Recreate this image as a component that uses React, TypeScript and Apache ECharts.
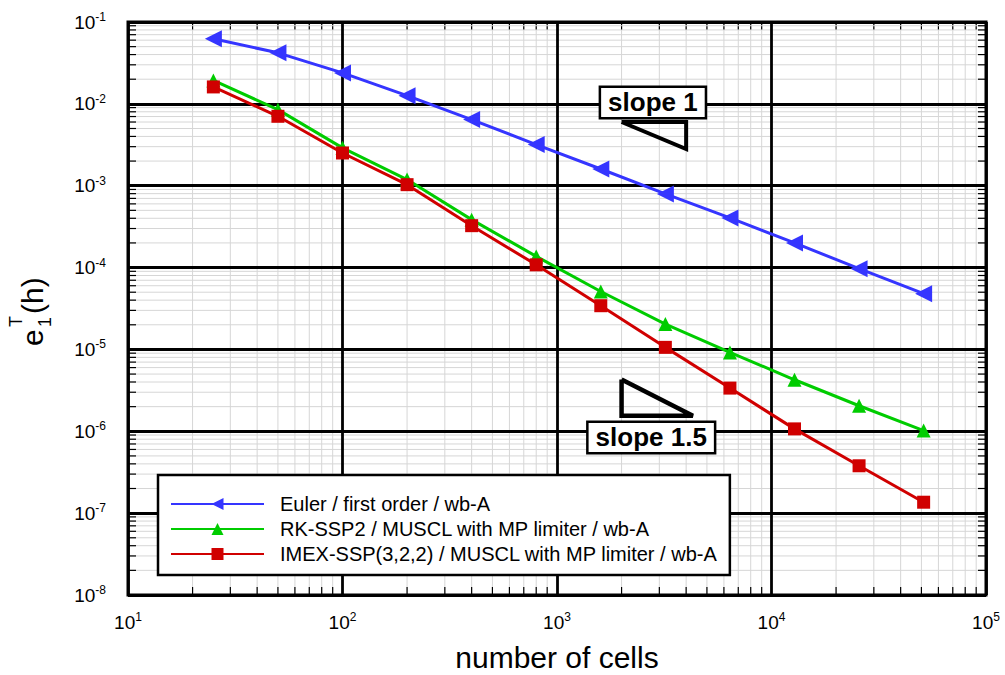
import { useEffect, useRef } from "react";
import * as echarts from "echarts";

// Mesh sizes (number of cells) and the measured error e_1^T(h) for each scheme
const cells = [25, 50, 100, 200, 400, 800, 1600, 3200, 6400, 12800, 25600, 51200];
const eulerErr = [0.0624, 0.042, 0.0239, 0.0126, 0.00643, 0.00318, 0.0016, 0.000794, 0.000404, 0.0002, 9.7e-5, 4.8e-5];
const rkErr = [0.0193, 0.0085, 0.0029, 0.00119, 0.000385, 0.000137, 5.1e-5, 2.04e-5, 9.2e-6, 4.26e-6, 2.05e-6, 1.02e-6];
const imexErr = [0.0161, 0.00705, 0.00251, 0.00103, 0.000325, 0.000108, 3.42e-5, 1.06e-5, 3.37e-6, 1.07e-6, 3.79e-7, 1.36e-7];

const seriesNames = [
  "Euler / first order / wb-A",
  "RK-SSP2 / MUSCL with MP limiter / wb-A",
  "IMEX-SSP(3,2,2) / MUSCL with MP limiter / wb-A",
];

// Reference slope triangles (closed polylines) and their labels
const slope1X = [2000, 4000, 4000, 2000];
const slope1Y = [0.006, 0.006, 0.0028, 0.006];
const slope15X = [2000, 2000, 4300, 2000];
const slope15Y = [4.3e-6, 1.55e-6, 1.55e-6, 4.3e-6];
const slopeLabels = [
  { text: "slope 1", x: 2800, y: 0.0104 },
  { text: "slope 1.5", x: 2750, y: 8.4e-7 },
];

const X_MIN = 10;
const X_MAX = 1e5;
const Y_MIN = 1e-8;
const Y_MAX = 1e-1;

const FONT = '"Liberation Sans", Arial, Helvetica, sans-serif';

function minorValues(lo: number, hi: number): number[] {
  const out: number[] = [];
  for (let e = Math.round(Math.log10(lo)); e < Math.round(Math.log10(hi)); e++) {
    for (let k = 2; k <= 9; k++) out.push(k * Math.pow(10, e));
  }
  return out;
}

const xMinor = minorValues(X_MIN, X_MAX);
const yMinor = minorValues(Y_MIN, Y_MAX);

const pair = (xs: number[], ys: number[]) => xs.map((x, i) => [x, ys[i]]);

const powLabel = (v: number) => {
  const e = Math.round(Math.log10(v));
  return `{b|10}{s|${e}}`;
};

const labelRich = {
  b: { fontSize: 19, fontFamily: FONT, color: "#000", lineHeight: 22 },
  s: { fontSize: 12, fontFamily: FONT, color: "#000", verticalAlign: "top" as const, lineHeight: 12 },
};

const GRID_GRAY = "#d6d6d6";
const TICK = 8;

// y-axis title e_1^T(h), drawn rotated with stacked sub/superscript
const yTitle = {
  type: "group",
  x: 43,
  y: 346,
  rotation: Math.PI / 2,
  silent: true,
  children: [
    { type: "text", x: 0, y: -10.4, style: { text: "e", fontSize: 30, fontFamily: FONT, fill: "#000", align: "left", verticalAlign: "middle" } },
    { type: "text", x: 19, y: -27.2, style: { text: "T", fontSize: 18, fontFamily: FONT, fill: "#000", align: "left", verticalAlign: "middle" } },
    { type: "text", x: 19, y: 1.8, style: { text: "1", fontSize: 18, fontFamily: FONT, fill: "#000", align: "left", verticalAlign: "middle" } },
    { type: "text", x: 32, y: -10.4, style: { text: "(h)", fontSize: 30, fontFamily: FONT, fill: "#000", align: "left", verticalAlign: "middle" } },
  ],
};

export default function App() {
  const ref = useRef<HTMLDivElement>(null);

  useEffect(() => {
    if (!ref.current) return;
    const chart = echarts.init(ref.current, undefined, { renderer: "svg" });

    const option: any = {
      animation: false,
      backgroundColor: "#fff",
      grid: {
        left: 128,
        right: 19,
        top: 22,
        bottom: 80,
        show: true,
        borderColor: "#000",
        borderWidth: 3,
        backgroundColor: "transparent",
        z: 1,
        containLabel: false,
        outerBoundsMode: "none",
      },
      xAxis: {
        type: "log",
        logBase: 10,
        min: X_MIN,
        max: X_MAX,
        z: 1,
        name: "number of cells",
        nameLocation: "middle",
        nameGap: 47,
        nameTextStyle: { fontSize: 30, fontFamily: FONT, color: "#000" },
        axisLine: { show: false },
        axisTick: { show: false },
        axisLabel: { margin: 16, formatter: powLabel, rich: labelRich },
        splitLine: { show: true, lineStyle: { color: "#000", width: 2.8 } },
        minorTick: { show: false },
        minorSplitLine: { show: false },
      },
      yAxis: {
        type: "log",
        logBase: 10,
        min: Y_MIN,
        max: Y_MAX,
        z: 1,
        axisLine: { show: false },
        axisTick: { show: false },
        axisLabel: { margin: 22, formatter: powLabel, rich: labelRich },
        splitLine: { show: true, lineStyle: { color: "#000", width: 2.8 } },
        minorTick: { show: false },
        minorSplitLine: { show: false },
      },
      legend: {
        orient: "vertical",
        left: 158,
        top: 475,
        padding: [19, 12, 11, 12],
        itemGap: 5,
        itemWidth: 93,
        itemHeight: 15,
        backgroundColor: "#fff",
        borderColor: "#000",
        borderWidth: 2.5,
        borderRadius: 0,
        textStyle: { fontSize: 20, fontFamily: FONT, color: "#000", padding: [0, 0, 0, 11] },
        data: seriesNames,
        selectedMode: false,
      },
      graphic: [yTitle],
      series: [
        {
          // light minor grid lines and inward minor ticks along x
          type: "custom",
          silent: true,
          z: 0,
          clip: false,
          encode: { x: 0, y: 1 },
          data: xMinor.map((v) => [v, Y_MIN]),
          renderItem: (_p: any, api: any) => {
            const v = api.value(0);
            const b = api.coord([v, Y_MIN]);
            const t = api.coord([v, Y_MAX]);
            return {
              type: "group",
              children: [
                { type: "line", shape: { x1: b[0], y1: b[1], x2: t[0], y2: t[1] }, style: { stroke: GRID_GRAY, lineWidth: 1 } },
                { type: "line", shape: { x1: b[0], y1: b[1], x2: b[0], y2: b[1] - TICK }, style: { stroke: "#000", lineWidth: 1.2 } },
                { type: "line", shape: { x1: t[0], y1: t[1], x2: t[0], y2: t[1] + TICK }, style: { stroke: "#000", lineWidth: 1.2 } },
              ],
            };
          },
        },
        {
          // light minor grid lines and inward minor ticks along y
          type: "custom",
          silent: true,
          z: 0,
          clip: false,
          encode: { x: 0, y: 1 },
          data: yMinor.map((v) => [X_MIN, v]),
          renderItem: (_p: any, api: any) => {
            const v = api.value(1);
            const l = api.coord([X_MIN, v]);
            const r = api.coord([X_MAX, v]);
            return {
              type: "group",
              children: [
                { type: "line", shape: { x1: l[0], y1: l[1], x2: r[0], y2: r[1] }, style: { stroke: GRID_GRAY, lineWidth: 1 } },
                { type: "line", shape: { x1: l[0], y1: l[1], x2: l[0] + TICK, y2: l[1] }, style: { stroke: "#000", lineWidth: 1.2 } },
                { type: "line", shape: { x1: r[0], y1: r[1], x2: r[0] - TICK, y2: r[1] }, style: { stroke: "#000", lineWidth: 1.2 } },
              ],
            };
          },
        },
        {
          name: seriesNames[0],
          type: "line",
          z: 3,
          data: pair(cells, eulerErr),
          symbol: "triangle",
          symbolRotate: 90,
          symbolSize: 17,
          lineStyle: { color: "#3535ff", width: 3 },
          itemStyle: { color: "#3535ff" },
        },
        {
          name: seriesNames[1],
          type: "line",
          z: 4,
          data: pair(cells, rkErr),
          symbol: "triangle",
          symbolSize: 14,
          lineStyle: { color: "#00cc00", width: 3 },
          itemStyle: { color: "#00cc00" },
        },
        {
          name: seriesNames[2],
          type: "line",
          z: 5,
          data: pair(cells, imexErr),
          symbol: "rect",
          symbolSize: 13,
          lineStyle: { color: "#d00000", width: 3 },
          itemStyle: { color: "#d00000" },
        },
        {
          type: "line",
          z: 6,
          silent: true,
          data: pair(slope1X, slope1Y),
          symbol: "none",
          lineStyle: { color: "#000", width: 4, join: "miter" },
        },
        {
          type: "line",
          z: 6,
          silent: true,
          data: pair(slope15X, slope15Y),
          symbol: "none",
          lineStyle: { color: "#000", width: 4.5, join: "miter" },
        },
      ],
    };

    chart.setOption(option);

    // boxed slope labels, anchored at data coordinates through the grid's scales
    const labelEls = slopeLabels.map((s) => {
      const [px, py] = chart.convertToPixel({ gridIndex: 0 }, [s.x, s.y]) as number[];
      return {
        type: "text",
        x: px,
        y: py,
        z: 10,
        silent: true,
        style: {
          text: s.text,
          fontSize: 26,
          fontWeight: "bold",
          fontFamily: FONT,
          fill: "#000",
          align: "center",
          verticalAlign: "middle",
          backgroundColor: "#fff",
          borderColor: "#000",
          borderWidth: 2.5,
          padding: [2, 7, 1, 7],
        },
      };
    });
    chart.setOption({ graphic: [yTitle, ...labelEls] });

    return () => chart.dispose();
  }, []);

  return (
    <div
      ref={ref}
      style={{ position: "fixed", left: 0, top: 0, width: 1005, height: 675, background: "#fff" }}
    />
  );
}
